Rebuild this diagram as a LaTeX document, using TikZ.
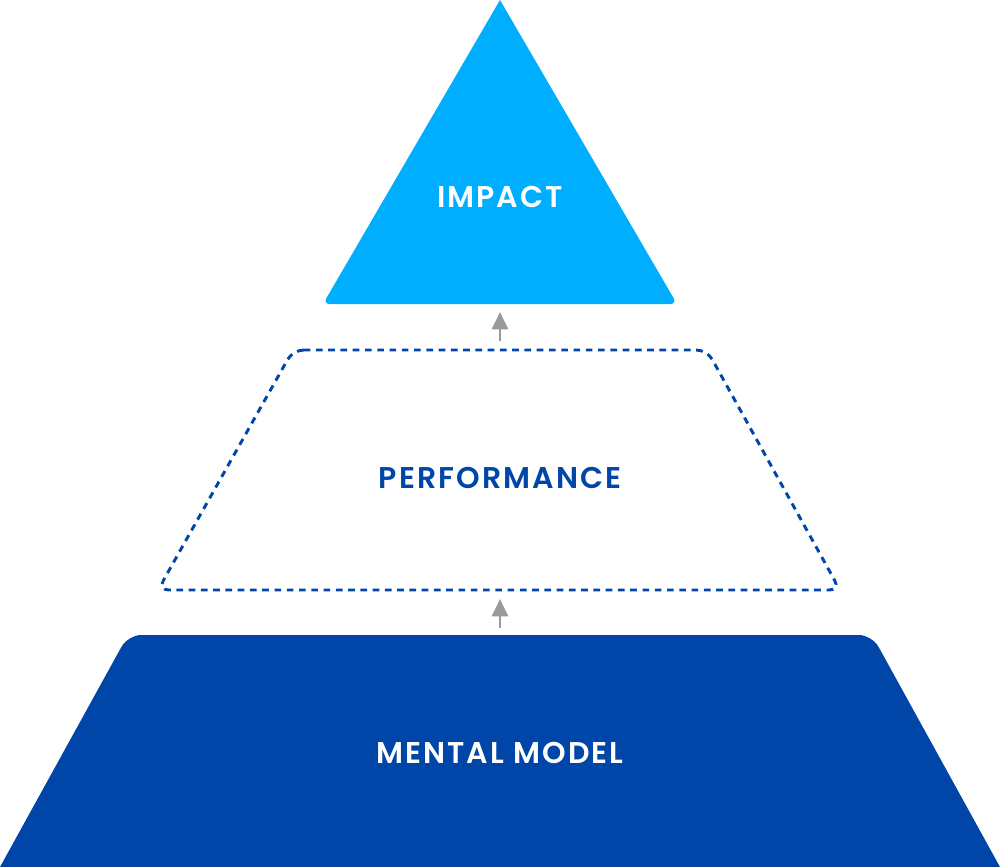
\documentclass[tikz,border=0pt]{standalone}
\usepackage{fontspec}
\setmainfont{Poppins}[UprightFont=* SemiBold, LetterSpace=7]
\usetikzlibrary{arrows.meta}
\definecolor{lightblue}{HTML}{00AEFF}
\definecolor{darkblue}{HTML}{0046A8}
\definecolor{arrowgray}{HTML}{9A9A9A}
\tikzset{
  lbl/.style={font=\fontsize{22.5}{26}\selectfont, inner sep=0pt},
  uparrow/.style={draw=arrowgray, line width=2.2pt, -{Triangle[length=13pt,width=12pt]}},
}
\begin{document}
\begin{tikzpicture}[x=0.75pt,y=-0.75pt]
\useasboundingbox (0,0) rectangle (1000,867);
% top triangle
\fill[lightblue] (500,0) [rounded corners=5pt] -- (677,304) -- (323,304) [sharp corners] -- cycle;
\node[lbl, text=white] (impact) at (500,197) {IMPACT};
% middle dashed trapezoid
\draw[darkblue, line width=2.2pt, dash pattern=on 5pt off 4.2pt, rounded corners=8pt]
  (293,350) -- (707,350) -- (840,590) -- (158,590) -- cycle;
\node[lbl, text=darkblue] (perf) at (500,478) {PERFORMANCE};
% bottom trapezoid
\fill[darkblue] (1000,867) -- (0,867)
  [rounded corners=10pt] -- (128,635) -- (872,635) [sharp corners] -- (1000,867) -- cycle;
\node[lbl, text=white] (mental) at (500,753) {MENTAL MODEL};
% arrows
\coordinate (a1s) at (500,341);
\coordinate (a1e) at (500,312);
\coordinate (a2s) at (500,628);
\coordinate (a2e) at (500,599);
\draw[uparrow] (a1s) -- (a1e);
\draw[uparrow] (a2s) -- (a2e);
\end{tikzpicture}
\end{document}
